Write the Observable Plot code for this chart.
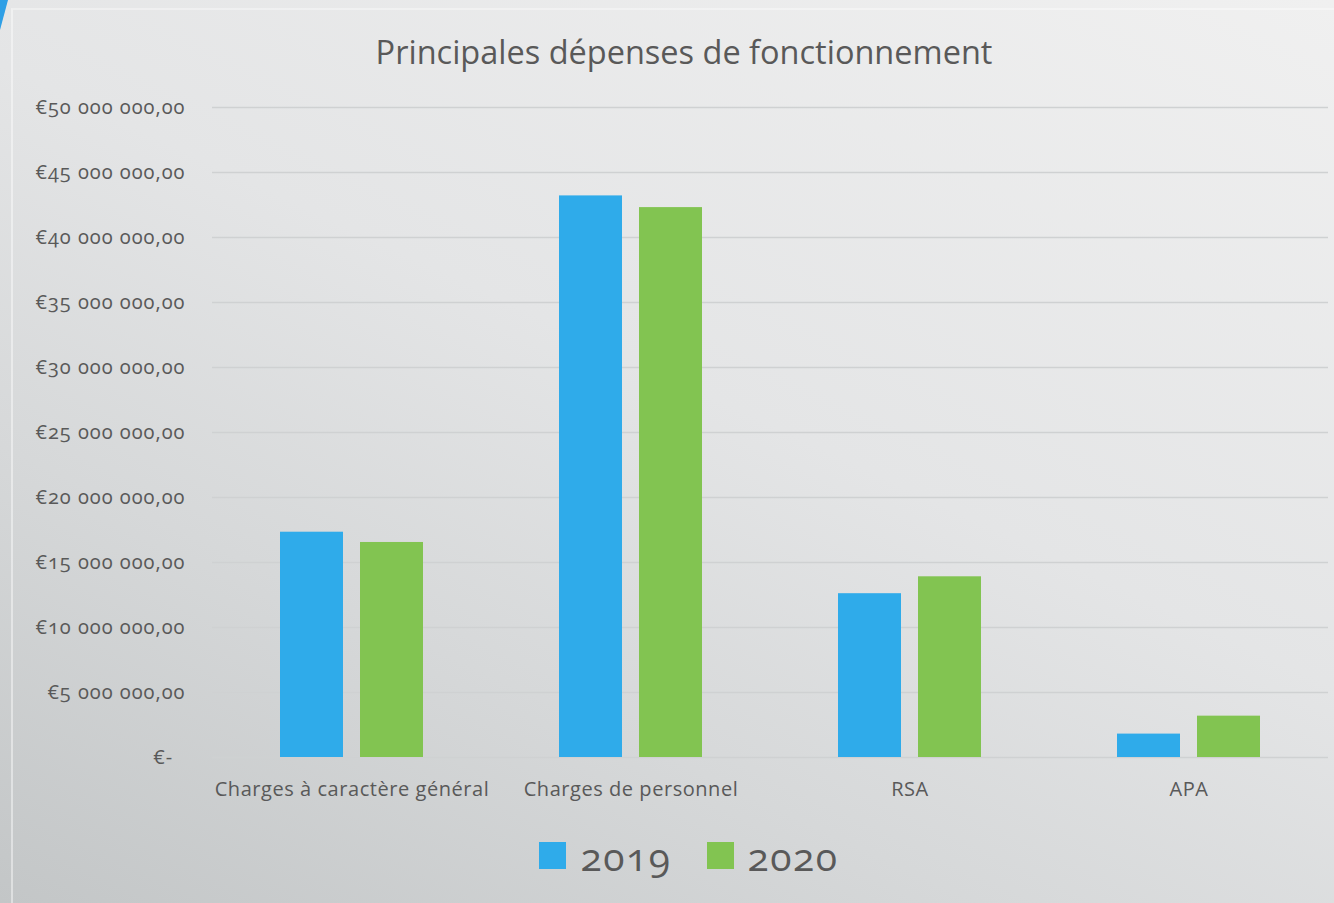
<!DOCTYPE html>
<html>
<head>
<meta charset="utf-8">
<script src="https://cdn.jsdelivr.net/npm/d3@7"></script>
<script src="https://cdn.jsdelivr.net/npm/@observablehq/plot@0.6"></script>
<style>
  html, body { margin: 0; padding: 0; }
  body {
    width: 1334px; height: 903px; overflow: hidden; position: relative;
    background: linear-gradient(25deg, #c3c6c7 0%, #d6d8d9 30%, #e4e5e6 55%, #f0f0f0 100%);
    font-family: "Open Sans", sans-serif;
    font-variant-numeric: oldstyle-nums;
    color: #595959;
  }
  #frame { position: absolute; left: 11px; top: 8px; right: 0; bottom: 0;
    border-left: 2px solid rgba(255,255,255,0.45); border-top: 2px solid rgba(255,255,255,0.35); }
  #corner { position: absolute; left: 0; top: 0; width: 8px; height: 30px; background: #2e9fe6;
    clip-path: polygon(0 0, 100% 0, 0 100%); }
  #title { position: absolute; left: 0; top: 29px; width: 1368px; text-align: center;
    font-size: 32.5px; font-weight: 400; color: #595959; letter-spacing: 0px; }
  #chart { position: absolute; left: 0; top: 90px; }
  #legend { position: absolute; top: 829px; left: 0; width: 1378px; display: flex; justify-content: center;
    gap: 35px; font-size: 39px; letter-spacing: 1.5px; color: #595959; }
  #legend .item { display: flex; align-items: center; gap: 14px; }
  #legend .sw { width: 27px; height: 27px; display: inline-block; }
  svg text { font-variant-numeric: oldstyle-nums; }
  .ytick text { letter-spacing: 1px; }
  .fxtick text { letter-spacing: 0.55px; }
</style>
</head>
<body>
<div id="corner"></div>
<div id="frame"></div>
<div id="title">Principales dépenses de fonctionnement</div>
<div id="chart"></div>
<div id="legend"></div>
<script>
const categories = ["Charges à caractère général", "Charges de personnel", "RSA", "APA"];
const years = ["2019", "2020"];
const values2019 = [17330000, 43200000, 12600000, 1800000];
const values2020 = [16540000, 42300000, 13900000, 3180000];
const colors = ["#2fabea", "#82c451"];
const yTicks = [0, 5e6, 10e6, 15e6, 20e6, 25e6, 30e6, 35e6, 40e6, 45e6, 50e6];

const rows = [];
categories.forEach((c, i) => {
  rows.push({category: c, year: "2019", value: values2019[i]});
  rows.push({category: c, year: "2020", value: values2020[i]});
});

const loc = d3.formatLocale({decimal: ",", thousands: "\u00a0", grouping: [3], currency: ["€", ""]});
const fmt = loc.format(",.2f");
const tickFmt = d => d === 0 ? "€-\u00a0\u00a0" : "€" + fmt(d);

const chart = Plot.plot({
  width: 1334,
  height: 720,
  marginLeft: 211,
  marginRight: 6,
  marginTop: 17,
  marginBottom: 53,
  style: {background: "transparent", fontFamily: "Open Sans, sans-serif", fontSize: "20px", color: "#595959"},
  fx: {domain: categories, padding: 0, label: null},
  x: {domain: years, paddingInner: 0.2125, paddingOuter: 0.85, axis: null},
  y: {domain: [0, 50e6], axis: null},
  color: {domain: years, range: colors},
  marks: [
    Plot.gridY(yTicks, {stroke: "#cfd1d2", strokeOpacity: 1, strokeWidth: 1.5}),
    Plot.axisY(yTicks, {facetAnchor: "left", tickSize: 0, tickPadding: 27, tickFormat: tickFmt, label: null, fill: "#595959", className: "ytick"}),
    Plot.barY(rows, {fx: "category", x: "year", y: "value", fill: "year"}),
    Plot.axisFx({anchor: "bottom", tickSize: 0, tickPadding: 24, label: null, fill: "#595959", className: "fxtick"})
  ]
});
document.getElementById("chart").appendChild(chart);

const legend = document.getElementById("legend");
years.forEach((y, i) => {
  const it = document.createElement("div");
  it.className = "item";
  it.innerHTML = `<span class="sw" style="background:${colors[i]}"></span><span>${y}</span>`;
  legend.appendChild(it);
});
</script>
</body>
</html>
